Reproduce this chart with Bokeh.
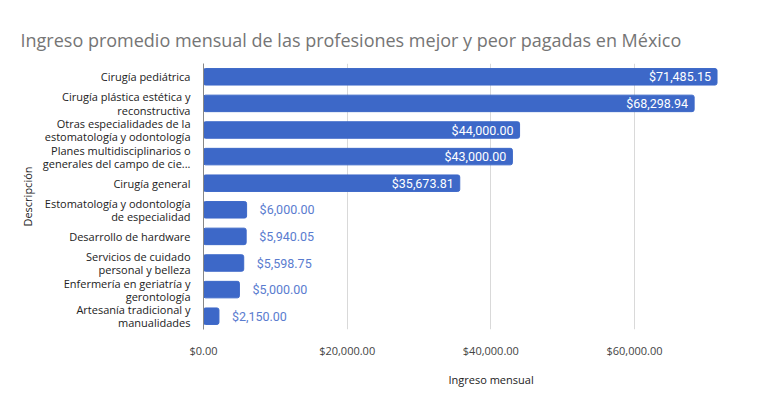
from bokeh.plotting import figure
from bokeh.models import ColumnDataSource, FactorRange, FixedTicker, NumeralTickFormatter, Title
from bokeh.core.properties import value
from bokeh.embed import file_html
from bokeh.resources import INLINE

categories = [
    "Cirugía pediátrica",
    "Cirugía plástica estética y\nreconstructiva",
    "Otras especialidades de la\nestomatología y odontología",
    "Planes multidisciplinarios o\ngenerales del campo de cie...",
    "Cirugía general",
    "Estomatología y odontología\nde especialidad",
    "Desarrollo de hardware",
    "Servicios de cuidado\npersonal y belleza",
    "Enfermería en geriatría y\ngerontología",
    "Artesanía tradicional y\nmanualidades",
]
ingreso = [71485.15, 68298.94, 44000.00, 43000.00, 35673.81,
           6000.00, 5940.05, 5598.75, 5000.00, 2150.00]
etiquetas = ["$71,485.15", "$68,298.94", "$44,000.00", "$43,000.00", "$35,673.81",
             "$6,000.00", "$5,940.05", "$5,598.75", "$5,000.00", "$2,150.00"]
x_ticks = [0, 20000, 40000, 60000]

title = "Ingreso promedio mensual de las profesiones mejor y peor pagadas en México"
x_title = "Ingreso mensual"
y_title = "Descripción"

BAR = "#3d68c8"
OUT_LABEL = "#5a7ccf"

factors = list(reversed(categories))
src = ColumnDataSource(dict(cat=categories, val=ingreso, lab=etiquetas))

inside = [v > 20000 for v in ingreso]
src_in = ColumnDataSource(dict(
    cat=[c for c, f in zip(categories, inside) if f],
    val=[v for v, f in zip(ingreso, inside) if f],
    lab=[l for l, f in zip(etiquetas, inside) if f]))
src_out = ColumnDataSource(dict(
    cat=[c for c, f in zip(categories, inside) if not f],
    val=[v for v, f in zip(ingreso, inside) if not f],
    lab=[l for l, f in zip(etiquetas, inside) if not f]))

p = figure(width=753, height=396, output_backend="svg", toolbar_location=None,
           y_range=FactorRange(factors=factors, range_padding=0),
           x_range=(0, 75450),
           min_border_left=203, min_border_right=8, min_border_top=63, min_border_bottom=65)
p.title.text = title
p.title.text_font = "Open Sans"
p.title.text_font_size = "18px"
p.title.text_font_style = "normal"
p.title.text_color = "#757575"
p.title.offset = -183

# spacer between the title and the plot frame
p.add_layout(Title(text=" ", text_font_size="4px", standoff=0), "above")

p.hbar(y="cat", right="val", left=0, height=0.62, source=src, color=BAR,
       border_radius=2)

p.text(x="val", y="cat", text="lab", source=src_in, x_offset=-6,
       text_align="right", text_baseline="middle", text_color="white",
       text_font=value("Roboto"), text_font_size="12.5px")
p.text(x="val", y="cat", text="lab", source=src_out, x_offset=13,
       text_align="left", text_baseline="middle", text_color=OUT_LABEL,
       text_font=value("Roboto"), text_font_size="12.5px")

p.outline_line_color = None
p.ygrid.grid_line_color = None
p.xgrid.grid_line_color = "#d9d9d9"
p.xgrid.ticker = FixedTicker(ticks=x_ticks)

p.xaxis.ticker = FixedTicker(ticks=x_ticks)
p.xaxis.formatter = NumeralTickFormatter(format="$0,0.00")
p.xaxis.axis_line_color = None
p.xaxis.major_tick_line_color = None
p.xaxis.minor_tick_line_color = None
p.xaxis.major_label_text_font = "Open Sans"
p.xaxis.major_label_text_font_size = "11px"
p.xaxis.major_label_text_color = "#444444"
p.xaxis.major_label_standoff = 7

p.yaxis.axis_line_color = "#888888"
p.yaxis.major_tick_line_color = None
p.yaxis.minor_tick_line_color = None
p.yaxis.major_label_text_font = "Open Sans"
p.yaxis.major_label_text_font_size = "11px"
p.yaxis.major_label_text_color = "#222222"
p.yaxis.major_label_text_line_height = 0.88
p.yaxis.major_label_standoff = 7
p.yaxis.axis_label = y_title
p.yaxis.axis_label_text_font = "Open Sans"
p.yaxis.axis_label_text_font_size = "11px"
p.yaxis.axis_label_text_font_style = "normal"
p.yaxis.axis_label_text_color = "#222222"

p.add_layout(Title(text=x_title, align="left", offset=245, standoff=19,
                   text_font="Open Sans", text_font_size="11px",
                   text_font_style="normal", text_color="#222222"), "below")

open("out.html", "w").write(file_html(p, INLINE))
